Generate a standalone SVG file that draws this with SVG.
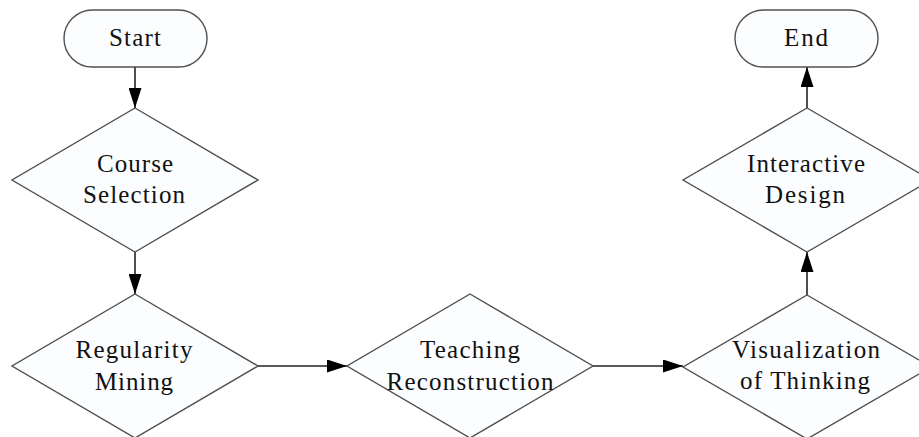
<svg xmlns="http://www.w3.org/2000/svg" width="919" height="437" viewBox="0 0 919 437">
<style>
.shape{fill:#fbfdff;stroke:#505050;stroke-width:1.4}
.lbl{font-size:25px;fill:#111;text-anchor:middle}
.edge{stroke:#222;stroke-width:1.6;fill:none}
</style>
<defs>
<marker id="ah" viewBox="0 0 20 13" refX="20" refY="6.5" markerWidth="20" markerHeight="13" markerUnits="userSpaceOnUse" orient="auto">
<path d="M0,0 L20,6.5 L0,13 Z" fill="#000"/>
</marker>
</defs>
<rect width="919" height="437" fill="#fff"/>
<g id="connectors">
<line class="edge" x1="135" y1="67" x2="135" y2="108" marker-end="url(#ah)"/>
<line class="edge" x1="135" y1="252" x2="135" y2="294" marker-end="url(#ah)"/>
<line class="edge" x1="258" y1="366" x2="347" y2="366" marker-end="url(#ah)"/>
<line class="edge" x1="593" y1="366" x2="683" y2="366" marker-end="url(#ah)"/>
<line class="edge" x1="807" y1="295" x2="807" y2="252" marker-end="url(#ah)"/>
<line class="edge" x1="807" y1="108" x2="807" y2="67" marker-end="url(#ah)"/>
</g>
<g font-family="'Liberation Serif', 'DejaVu Serif', serif">
<g id="start">
<rect class="shape" x="64" y="10" width="143" height="57" rx="28.5"/>
<text class="lbl" x="135" y="46" textLength="52" lengthAdjust="spacing">Start</text>
</g>
<g id="course">
<polygon class="shape" points="135,108 258,180 135,252 12,180"/>
<text class="lbl" x="135" y="172" textLength="76" lengthAdjust="spacing">Course</text>
<text class="lbl" x="134" y="203" textLength="102" lengthAdjust="spacing">Selection</text>
</g>
<g id="regularity">
<polygon class="shape" points="135,294 258,366 135,438 12,366"/>
<text class="lbl" x="134" y="358" textLength="117" lengthAdjust="spacing">Regularity</text>
<text class="lbl" x="134" y="390" textLength="78" lengthAdjust="spacing">Mining</text>
</g>
<g id="teaching">
<polygon class="shape" points="470,294 593,366 470,438 347,366"/>
<text class="lbl" x="470" y="358" textLength="100" lengthAdjust="spacing">Teaching</text>
<text class="lbl" x="470" y="390" textLength="167" lengthAdjust="spacing">Reconstruction</text>
</g>
<g id="visualization">
<polygon class="shape" points="807,295 931,367 807,439 683,367"/>
<text class="lbl" x="806" y="358" textLength="148" lengthAdjust="spacing">Visualization</text>
<text class="lbl" x="805" y="389" textLength="130" lengthAdjust="spacing">of Thinking</text>
</g>
<g id="interactive">
<polygon class="shape" points="807,108 931,180 807,252 683,180"/>
<text class="lbl" x="806" y="172" textLength="118" lengthAdjust="spacing">Interactive</text>
<text class="lbl" x="805" y="203" textLength="80" lengthAdjust="spacing">Design</text>
</g>
<g id="end">
<rect class="shape" x="735" y="10" width="143" height="57" rx="28.5"/>
<text class="lbl" x="806" y="46" textLength="44" lengthAdjust="spacing">End</text>
</g>
</g>
</svg>
